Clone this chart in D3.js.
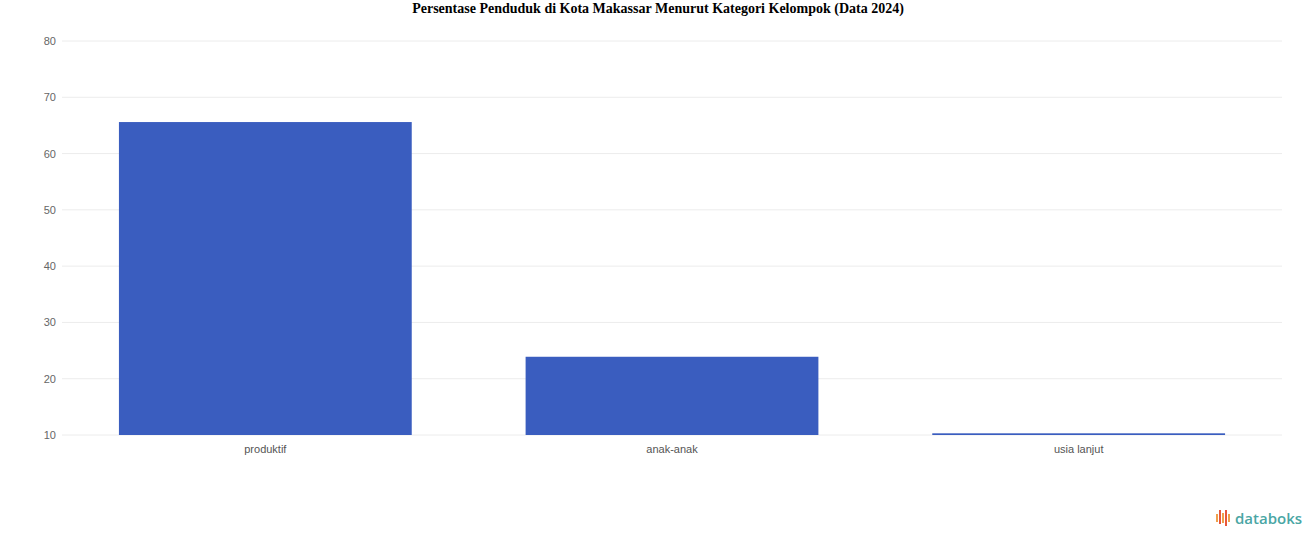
<!DOCTYPE html>
<html>
<head>
<meta charset="utf-8">
<script src="https://cdn.jsdelivr.net/npm/d3@7"></script>
<style>
  html, body { margin: 0; padding: 0; background: #fff; }
  svg { display: block; }
</style>
</head>
<body>
<svg id="chart" width="1316" height="547"></svg>
<script>
const title = "Persentase Penduduk di Kota Makassar Menurut Kategori Kelompok (Data 2024)";
const categories = ["produktif", "anak-anak", "usia lanjut"];
const values = [65.6, 23.9, 10.3];
const yTicks = [10, 20, 30, 40, 50, 60, 70, 80];

const svg = d3.select("#chart");
const W = 1316, H = 547;
const margin = { top: 41, right: 34, bottom: 112, left: 62 };
const plotW = W - margin.left - margin.right;
const plotH = H - margin.top - margin.bottom;

const x = d3.scaleBand().domain(categories).range([margin.left, margin.left + plotW]).paddingInner(0.28).paddingOuter(0.14);
const y = d3.scaleLinear().domain([10, 80]).range([margin.top + plotH, margin.top]);

svg.append("text")
  .attr("x", W / 2).attr("y", 13)
  .attr("text-anchor", "middle")
  .attr("font-family", "'Liberation Serif', 'Times New Roman', serif")
  .attr("font-weight", "bold").attr("font-size", 14)
  .attr("fill", "#000")
  .text(title);

// grid
svg.append("g").selectAll("line").data(yTicks).join("line")
  .attr("x1", margin.left).attr("x2", margin.left + plotW)
  .attr("y1", d => y(d)).attr("y2", d => y(d))
  .attr("stroke", "#ececec").attr("stroke-width", 1);

// y axis
const yAxis = d3.axisLeft(y).tickValues(yTicks).tickSize(0).tickPadding(0);
const gy = svg.append("g").attr("transform", `translate(${margin.left - 6},0)`).call(yAxis);
gy.select(".domain").remove();
gy.selectAll("text").attr("font-family", "'Liberation Sans', Arial, sans-serif").attr("font-size", 11).attr("fill", "#666").attr("text-anchor", "end");

// bars
svg.append("g").selectAll("rect").data(categories).join("rect")
  .attr("x", d => x(d))
  .attr("width", x.bandwidth())
  .attr("y", (d, i) => y(values[i]))
  .attr("height", (d, i) => y(10) - y(values[i]))
  .attr("fill", "#3a5dbf");

// x axis
const xAxis = d3.axisBottom(x).tickSize(0).tickPadding(10);
const gx = svg.append("g").attr("transform", `translate(0,${margin.top + plotH})`).call(xAxis);
gx.select(".domain").remove();
gx.selectAll("text").attr("font-family", "'Liberation Sans', Arial, sans-serif").attr("font-size", 11).attr("fill", "#555");

// databoks logo
const logo = svg.append("g").attr("transform", "translate(1216,510)");
const barsLogo = [[0,4,8,"#f0a04b"],[3,0,14,"#e8573b"],[6,3,10,"#f0a04b"],[9,0,16,"#e8573b"],[12,4,8,"#f0a04b"]];
logo.selectAll("rect").data(barsLogo).join("rect")
  .attr("x", d => d[0]).attr("y", d => d[1]).attr("width", 2).attr("height", d => d[2])
  .attr("fill", d => d[3]);
logo.append("text").attr("x", 19).attr("y", 14)
  .attr("font-family", "'Open Sans', 'Noto Sans', sans-serif").attr("font-size", 15).attr("font-weight", 600)
  .attr("fill", "#4aa6a4").text("databoks");
</script>
</body>
</html>
